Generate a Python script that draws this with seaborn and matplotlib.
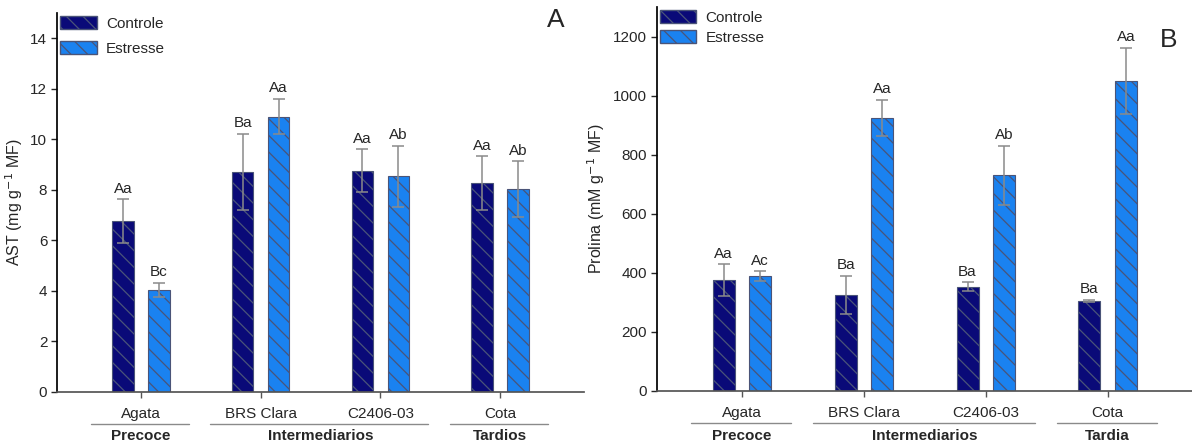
import numpy as np
import pandas as pd
import matplotlib
matplotlib.use("Agg")
import matplotlib.pyplot as plt
import matplotlib.patches as mpatches
import matplotlib.transforms as mtransforms
import seaborn as sns

# ── Config ────────────────────────────────────────────────────────────────────
sns.set_theme(style="white")
plt.rcParams["font.family"] = ["Liberation Sans", "DejaVu Sans"]
plt.rcParams["hatch.linewidth"] = 0.9
plt.rcParams["hatch.color"] = "#4a5478"

# ── Data ──────────────────────────────────────────────────────────────────────
cultivares = ["Agata", "BRS Clara", "C2406-03", "Cota"]
tratamentos = ["Controle", "Estresse"]

ast_controle = [6.75, 8.70, 8.75, 8.25]
ast_controle_err = [0.87, 1.50, 0.85, 1.07]
ast_estresse = [4.03, 10.90, 8.53, 8.02]
ast_estresse_err = [0.29, 0.70, 1.20, 1.10]
ast_letras_controle = ["Aa", "Ba", "Aa", "Aa"]
ast_letras_estresse = ["Bc", "Aa", "Ab", "Ab"]
ast_grupos = ["Precoce", "Intermediarios", "Intermediarios", "Tardios"]

prolina_controle = [375, 325, 352, 305]
prolina_controle_err = [53, 65, 15, 3]
prolina_estresse = [388, 925, 730, 1051]
prolina_estresse_err = [17, 62, 101, 112]
prolina_letras_controle = ["Aa", "Ba", "Ba", "Ba"]
prolina_letras_estresse = ["Ac", "Aa", "Ab", "Aa"]
prolina_grupos = ["Precoce", "Intermediarios", "Intermediarios", "Tardia"]

cores = {"Controle": "#0a0a78", "Estresse": "#1a82f0"}
ERR_COLOR = "#8a8a8a"
HATCH = "\\\\"


def painel(ax, controle, c_err, estresse, e_err, let_c, let_e, grupos,
           ylim, yticks, ylabel, pad_txt, leg_spacing):
    df = pd.DataFrame({
        "cultivar": cultivares * 2,
        "trat": ["Controle"] * 4 + ["Estresse"] * 4,
        "valor": controle + estresse,
    })
    sns.barplot(data=df, x="cultivar", y="valor", hue="trat", palette=cores,
                width=0.6, gap=0.4, errorbar=None, ax=ax, legend=False,
                edgecolor="#4a5478", linewidth=0.8, saturation=1)

    # error bars + significance letters
    for cont, err, let in zip(ax.containers, [c_err, e_err], [let_c, let_e]):
        for bar, e, t in zip(cont, err, let):
            bar.set_hatch(HATCH)
            x = bar.get_x() + bar.get_width() / 2
            h = bar.get_height()
            ax.errorbar(x, h, yerr=e, color=ERR_COLOR, capsize=4,
                        elinewidth=1.1, capthick=1.1, zorder=3)
            ax.text(x, h + e + pad_txt, t, ha="center", va="bottom",
                    fontsize=11)

    ax.set_xlim(-0.70, 3.70)
    ax.set_ylim(*ylim)
    ax.set_yticks(yticks)
    ax.set_xlabel("")
    ax.set_ylabel(ylabel, fontsize=11.5, labelpad=4)
    ax.tick_params(axis="y", direction="out", length=4, width=1,
                   labelsize=11, left=True, pad=3)
    ax.tick_params(axis="x", direction="out", length=4, width=1,
                   labelsize=11, bottom=True, pad=7, color="#555555")
    for s in ["top", "right"]:
        ax.spines[s].set_visible(False)
    ax.spines["left"].set_color("black")
    ax.spines["bottom"].set_color("#555555")

    # group lines / labels under the categories
    trans = mtransforms.blended_transform_factory(ax.transData, ax.transAxes)
    for g in dict.fromkeys(grupos):
        idx = [i for i, gg in enumerate(grupos) if gg == g]
        x0, x1 = idx[0] - 0.42, idx[-1] + 0.40
        ax.plot([x0, x1], [-0.085, -0.085], color="#8a8a8a", lw=1,
                transform=trans, clip_on=False)
        ax.text((idx[0] + idx[-1]) / 2, -0.117, g, transform=trans,
                ha="center", va="center", fontsize=11, fontweight="bold")

    handles = [mpatches.Patch(facecolor=cores[t], edgecolor="#4a5478",
                              hatch=HATCH, label=t) for t in tratamentos]
    ax.legend(handles=handles, loc="upper left", bbox_to_anchor=(0.0, 1.0),
              frameon=False, fontsize=11, handlelength=2.4, handleheight=0.9,
              labelspacing=leg_spacing, handletextpad=0.6, borderaxespad=0,
              borderpad=0.2)
    return ax


fig = plt.figure(figsize=(11.92, 4.45), dpi=100)
ax1 = fig.add_axes([0.0478, 0.1198, 0.4421, 0.851])
ax2 = fig.add_axes([0.5509, 0.1220, 0.4500, 0.8616])

painel(ax1, ast_controle, ast_controle_err, ast_estresse, ast_estresse_err,
       ast_letras_controle, ast_letras_estresse, ast_grupos,
       (0, 15), np.arange(0, 15, 2), "AST (mg g$^{-1}$ MF)", 0.15, 0.7)
painel(ax2, prolina_controle, prolina_controle_err, prolina_estresse,
       prolina_estresse_err, prolina_letras_controle, prolina_letras_estresse,
       prolina_grupos, (0, 1300), np.arange(0, 1300, 200),
       "Prolina (mM g$^{-1}$ MF)", 12, 0.35)

fig.text(0.466, 0.955, "A", fontsize=19, ha="center", va="center")
fig.text(0.980, 0.910, "B", fontsize=19, ha="center", va="center")

fig.savefig("out.png", dpi=100)
plt.close(fig)
print("Saved: out.png")
